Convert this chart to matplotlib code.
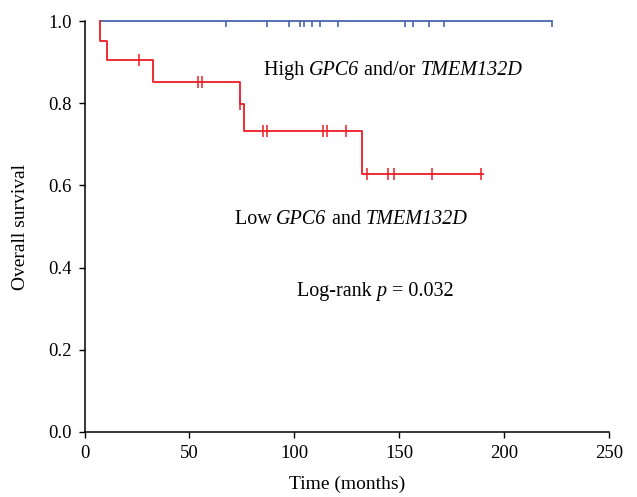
import matplotlib
matplotlib.use("Agg")
import matplotlib.pyplot as plt
from matplotlib.transforms import offset_copy

plt.rcParams["font.family"] = ["Liberation Serif", "DejaVu Serif"]

BLUE = "#3b5aa8"
RED = "#ee1c25"

# High GPC6 and/or TMEM132D: no events
high_start = 7.4
high_end = 222.7
high_censor = [67.3, 87.1, 97.5, 102.7, 104.6, 108.3, 112.2, 120.7,
               152.8, 156.7, 164.3, 171.5, 222.7]

# Low GPC6 and TMEM132D: step curve
low_times = [7.4, 7.4, 10.6, 32.5, 74.1, 76.0, 132.4, 190.1]
low_surv = [1.0, 0.951, 0.905, 0.852, 0.797, 0.733, 0.627, 0.627]
low_censor_t = [26.0, 54.2, 55.9, 74.1, 85.2, 87.1, 113.8, 115.7, 124.6,
                134.8, 144.5, 147.4, 165.8, 189.0]
low_censor_s = [0.905, 0.852, 0.852, 0.797, 0.733, 0.733, 0.733, 0.733, 0.733,
                0.627, 0.627, 0.627, 0.627, 0.627]

fig = plt.figure(figsize=(6.37, 4.97), dpi=100)
ax = fig.add_axes([84.5 / 637, 65 / 497, 524.5 / 637, 411 / 497])


def mixed_text(ax, x, y, parts, size=14.5):
    """Centred line of text made of (string, style) pieces."""
    renderer = fig.canvas.get_renderer()
    texts, offsets, pos = [], [], 0.0
    for s, style in parts:
        t = ax.text(x, y, s, fontstyle=style, fontsize=size,
                    ha="left", va="baseline")
        texts.append(t)
        offsets.append(pos)
        pos += t.get_window_extent(renderer).width
    for t, off in zip(texts, offsets):
        t.set_transform(offset_copy(ax.transData, fig, x=off - pos / 2,
                                    units="dots"))


# blue curve sits on the top edge; line unclipped, censor ticks clipped
ax.plot([high_start, high_end], [1.0, 1.0], color=BLUE, lw=1.2, clip_on=False)
ax.plot(high_censor, [1.0] * len(high_censor), ls="none", marker="|",
        ms=8, mew=1.1, color=BLUE)

ax.step(low_times, low_surv, where="post", color=RED, lw=1.3, clip_on=False)
ax.plot(low_censor_t, low_censor_s, ls="none", marker="|", ms=8, mew=1.1,
        color=RED, clip_on=False)

mixed_text(ax, 147, 0.869, [("High\u00a0", "normal"), ("GPC6", "italic"),
                            ("\u00a0and/or\u00a0", "normal"),
                            ("TMEM132D", "italic")])
mixed_text(ax, 127, 0.505, [("Low\u00a0", "normal"), ("GPC6", "italic"),
                            ("\u00a0and\u00a0", "normal"),
                            ("TMEM132D", "italic")])
mixed_text(ax, 138.5, 0.332, [("Log-rank\u00a0", "normal"), ("p", "italic"),
                              ("\u00a0=\u00a00.032", "normal")])

ax.set_xlim(0, 250)
ax.set_ylim(0, 1.0)
ax.set_xticks([0, 50, 100, 150, 200, 250])
ax.set_yticks([0.0, 0.2, 0.4, 0.6, 0.8, 1.0])
ax.set_yticklabels(["0.0", "0.2", "0.4", "0.6", "0.8", "1.0"])
ax.tick_params(direction="out", length=4, width=1, labelsize=13.5, pad=5)
ax.spines["top"].set_visible(False)
ax.spines["right"].set_visible(False)
for s in ("left", "bottom"):
    ax.spines[s].set_linewidth(1.1)

ax.set_xlabel("Time (months)", fontsize=14, labelpad=10)
ax.set_ylabel("Overall survival", fontsize=14, labelpad=14)

fig.savefig("out.png", dpi=100)
